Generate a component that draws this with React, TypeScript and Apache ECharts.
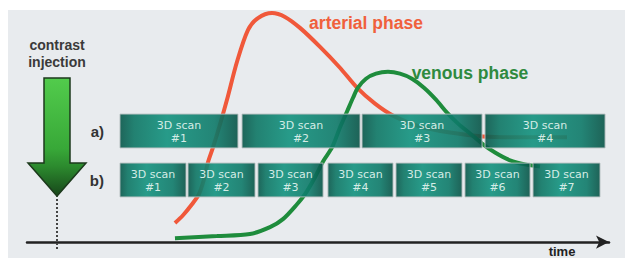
import React, { useEffect, useRef } from 'react';
import * as echarts from 'echarts';

// time (s) after contrast injection vs. enhancement level (%)
const arterialTime = [9.83, 10.5, 11.25, 11.83, 12.25, 12.58, 13.0, 13.58, 14.17, 15.0, 15.92, 16.75, 17.92, 19.0, 20.25, 21.92, 23.58, 25.0, 26.5, 28.0, 30.25, 32.75, 35.5, 38.58, 42.5];
const arterialLevel = [8.3, 11.7, 16.5, 20.9, 27.4, 34.8, 41.3, 51.3, 62.2, 78.7, 92.6, 97.8, 100, 98.3, 93.5, 85.2, 76.1, 67.4, 60.4, 55.2, 50.4, 47.8, 46.1, 45.7, 45.7];
const venousTime = [9.83, 13.33, 16.08, 17.75, 18.83, 20.0, 20.67, 21.5, 22.17, 22.92, 23.58, 24.17, 24.67, 25.08, 25.75, 26.58, 27.58, 28.58, 29.58, 30.58, 31.58, 32.5, 33.42, 34.42, 35.42, 36.5, 37.75, 39.0, 40.25];
const venousLevel = [1.7, 2.6, 3.5, 6.5, 10.0, 16.5, 20.9, 28.3, 35.2, 41.3, 50.0, 57.0, 63.0, 67.4, 71.3, 73.5, 74.3, 73.5, 71.3, 67.4, 62.2, 56.5, 51.7, 47.4, 43.0, 39.1, 35.7, 33.9, 33.0];

const scanRows = ['b)', 'a)'];
const scanAStart = [5.25, 15.42, 25.42, 35.67];
const scanAEnd = [15.08, 25.25, 35.42, 45.67];
const scanBStart = [5.25, 10.92, 16.75, 22.58, 28.25, 34.0, 39.67];
const scanBEnd = [10.75, 16.5, 22.17, 28.0, 33.75, 39.42, 45.25];

const injectionTime = 0;
const injectionMarkerLevel = [-3, 20];

const timeMin = -2.5;
const timeMax = 46;
const levelMin = -5;
const levelMax = 100;

export default function App() {
  const ref = useRef<HTMLDivElement>(null);

  useEffect(() => {
    if (!ref.current) return;
    const chart = echarts.init(ref.current, undefined, { renderer: 'svg' });

    const scanData: any[] = [];
    const scanLabels: string[] = [];
    scanAStart.forEach((s, i) => {
      scanData.push({ value: [s, scanAEnd[i], 1] });
      scanLabels.push('3D scan\n#' + (i + 1));
    });
    scanBStart.forEach((s, i) => {
      scanData.push({ value: [s, scanBEnd[i], 0] });
      scanLabels.push('3D scan\n#' + (i + 1));
    });

    const boxFill = {
      type: 'linear', x: 0, y: 0, x2: 1, y2: 0,
      colorStops: [
        { offset: 0, color: '#08574a' },
        { offset: 0.12, color: '#0d7664' },
        { offset: 0.4, color: '#12927e' },
        { offset: 0.8, color: '#0e7a69' },
        { offset: 1, color: '#085447' },
      ],
    };

    const font = '"Liberation Sans", Arial, sans-serif';

    chart.setOption({
      animation: false,
      backgroundColor: '#e8ebee',
      grid: [
        { left: 27, right: 16, top: 13, bottom: 3.5 },
        { left: 27, right: 16, top: 106.5, height: 98 },
      ],
      xAxis: [
        {
          type: 'value', gridIndex: 0, min: timeMin, max: timeMax,
          axisLine: { show: true, onZero: true, symbol: ['none', 'arrow'], symbolSize: [10, 13], lineStyle: { color: '#222', width: 2.5 } },
          axisTick: { show: false }, axisLabel: { show: false }, splitLine: { show: false },
          name: 'time', nameLocation: 'end', nameGap: -47,
          nameTextStyle: { align: 'center', verticalAlign: 'top', padding: [3, 0, 0, 0], fontWeight: 'bold', fontSize: 13, color: '#222', fontFamily: font },
        },
        { type: 'value', gridIndex: 1, min: timeMin, max: timeMax, show: false },
      ],
      yAxis: [
        { type: 'value', gridIndex: 0, min: levelMin, max: levelMax, show: false },
        {
          type: 'category', gridIndex: 1, data: scanRows,
          axisLine: { show: false }, axisTick: { show: false }, splitLine: { show: false },
          axisLabel: { show: true, margin: -77, fontWeight: 'bold', fontSize: 15, color: '#333', fontFamily: font },
        },
      ],
      graphic: [
        { type: 'rect', shape: { x: 0, y: 0, width: 625, height: 10 }, style: { fill: '#ffffff' }, z: 100 },
        { type: 'rect', shape: { x: 0, y: 0, width: 8, height: 258 }, style: { fill: '#ffffff' }, z: 100 },
        {
          type: 'polygon', z: 10,
          shape: { points: [[44, 78], [70, 78], [70, 163], [86, 163], [57, 196], [28, 163], [44, 163]] },
          style: {
            fill: {
              type: 'linear', x: 0, y: 0, x2: 0, y2: 1,
              colorStops: [
                { offset: 0, color: '#52cc4c' },
                { offset: 0.6, color: '#38a838' },
                { offset: 0.75, color: '#2c8a2e' },
                { offset: 1, color: '#17461a' },
              ],
            },
            stroke: '#1c3a1c', lineWidth: 1.5,
          },
        },
        {
          type: 'text', z: 10,
          style: { text: 'contrast\ninjection', x: 57, y: 53, align: 'center', verticalAlign: 'middle', font: 'bold 14px ' + font, fill: '#3a3a3a', lineHeight: 17 },
        },
        {
          type: 'text', z: 10,
          style: { text: 'arterial phase', x: 366, y: 23, align: 'center', verticalAlign: 'middle', font: 'bold 17.5px ' + font, fill: '#f0603c' },
        },
        {
          type: 'text', z: 10,
          style: { text: 'venous phase', x: 470, y: 73, align: 'center', verticalAlign: 'middle', font: 'bold 17.5px ' + font, fill: '#2f8a3f' },
        },
      ],
      series: [
        {
          type: 'line', xAxisIndex: 0, yAxisIndex: 0, z: 2,
          data: injectionMarkerLevel.map((v) => [injectionTime, v]),
          symbol: 'none', lineStyle: { color: '#444', width: 2, type: [2, 2] },
        },
        {
          type: 'line', name: 'arterial phase', xAxisIndex: 0, yAxisIndex: 0, z: 2,
          data: arterialTime.map((t, i) => [t, arterialLevel[i]]),
          symbol: 'none', smooth: 0.3, lineStyle: { color: '#f0583a', width: 4 },
        },
        {
          type: 'line', name: 'venous phase', xAxisIndex: 0, yAxisIndex: 0, z: 2,
          data: venousTime.map((t, i) => [t, venousLevel[i]]),
          symbol: 'none', smooth: 0.3, lineStyle: { color: '#1e8c3c', width: 4 },
        },
        {
          type: 'custom', xAxisIndex: 1, yAxisIndex: 1, z: 3,
          encode: { x: [0, 1], y: 2 },
          data: scanData,
          renderItem: (params: any, api: any) => {
            const s = api.value(0);
            const e = api.value(1);
            const row = api.value(2);
            const p0 = api.coord([s, row]);
            const p1 = api.coord([e, row]);
            const h = api.size([0, 1])[1] * 0.69;
            const x = p0[0];
            const w = p1[0] - p0[0];
            const y = p0[1] - h / 2;
            return {
              type: 'group',
              children: [
                { type: 'rect', shape: { x, y, width: w, height: h }, style: { fill: boxFill, stroke: '#b4bebe', lineWidth: 1, opacity: 0.9 } },
                {
                  type: 'text',
                  style: {
                    text: scanLabels[params.dataIndex], x: x + w / 2, y: y + h / 2 + 0.5,
                    align: 'center', verticalAlign: 'middle', fill: '#d4ece6',
                    font: '11px "DejaVu Sans", sans-serif', lineHeight: 13,
                  },
                },
              ],
            };
          },
        },
      ],
    });

    return () => chart.dispose();
  }, []);

  return <div ref={ref} style={{ position: 'fixed', left: 0, top: 0, width: 625, height: 258 }} />;
}
